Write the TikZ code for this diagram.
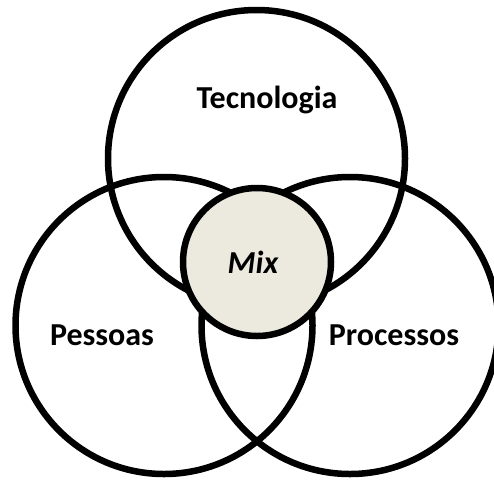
\documentclass[tikz,border=0pt]{standalone}
\usepackage{fontspec}
\setmainfont{Carlito}
\definecolor{mixfill}{RGB}{236,234,223}
\begin{document}
\begin{tikzpicture}[x=1pt,y=-1pt,
  ring/.style={circle,draw=black,line width=6.5pt,minimum size=297pt,inner sep=0pt},
  lbl/.style={font=\fontsize{32}{36}\selectfont\bfseries,inner sep=0pt}]
\clip (0,0) rectangle (494,482);
\fill[white] (0,0) rectangle (494,482);
\node[ring] (tec) at (256.5,158.5) {};
\node[ring] (pes) at (164,325.5) {};
\node[ring] (pro) at (350,325.5) {};
\node[circle,draw=black,line width=6.5pt,fill=mixfill,minimum size=148pt,inner sep=0pt] (mix) at (257,262) {};
\node[lbl] (tect) at (267,100) {Tecnologia};
\node[lbl] (pest) at (102,335) {Pessoas};
\node[lbl] (prot) at (394,335) {Processos};
\node[lbl,font=\fontsize{32}{36}\selectfont\bfseries\itshape] (mixt) at (253,262) {Mix};
\end{tikzpicture}
\end{document}
